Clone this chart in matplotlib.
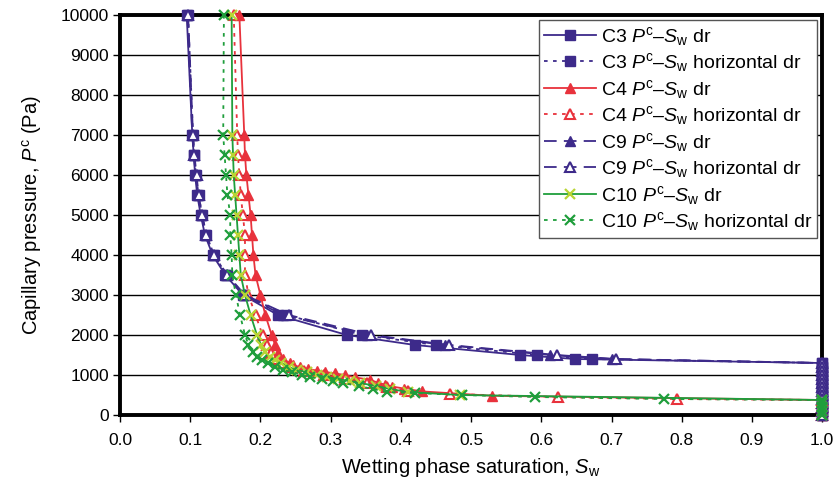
import matplotlib
matplotlib.use("Agg")
import matplotlib.pyplot as plt

plt.rcParams['font.family'] = ['Liberation Sans', 'DejaVu Sans']
plt.rcParams['mathtext.fontset'] = 'custom'
plt.rcParams['mathtext.rm'] = 'Liberation Sans'
plt.rcParams['mathtext.it'] = 'Liberation Sans:italic'

# ---- data ----
pc_c3 = [10000, 7000, 6500, 6000, 5500, 5000, 4500, 4000, 3500, 3000, 2500, 2000, 1750, 1500, 1400,
         1300, 1200, 1100, 1000, 900, 800, 700, 600, 500, 400, 300, 200, 100, 0]
sw_c3_dr = [0.095, 0.103, 0.105, 0.107, 0.110, 0.115, 0.121, 0.132, 0.150, 0.175, 0.225, 0.323, 0.420, 0.570, 0.648,
            1.0, 1.0, 1.0, 1.0, 1.0, 1.0, 1.0, 1.0, 1.0, 1.0, 1.0, 1.0, 1.0, 1.0]
sw_c3_h = [0.097, 0.104, 0.106, 0.108, 0.112, 0.117, 0.123, 0.134, 0.152, 0.177, 0.237, 0.345, 0.450, 0.594, 0.672,
           1.0, 1.0, 1.0, 1.0, 1.0, 1.0, 1.0, 1.0, 1.0, 1.0, 1.0, 1.0, 1.0, 1.0]
sw_c9_dr = [0.096, 0.103, 0.105, 0.108, 0.111, 0.116, 0.122, 0.133, 0.151, 0.176, 0.232, 0.352, 0.463, 0.612, 0.700,
            1.0, 1.0, 1.0, 1.0, 1.0, 1.0, 1.0, 1.0, 1.0, 1.0, 1.0, 1.0, 1.0, 1.0]
sw_c9_h = [0.097, 0.104, 0.106, 0.109, 0.112, 0.117, 0.123, 0.134, 0.153, 0.178, 0.240, 0.358, 0.469, 0.622, 0.706,
           1.0, 1.0, 1.0, 1.0, 1.0, 1.0, 1.0, 1.0, 1.0, 1.0, 1.0, 1.0, 1.0, 1.0]

pc_c4_dr = [10000, 7000, 6500, 6000, 5500, 5000, 4500, 4000, 3500, 3000, 2500, 2000, 1750, 1550, 1400, 1300,
            1250, 1200, 1150, 1110, 1075, 1040, 1000, 940, 880, 810, 760, 710, 660, 590, 480,
            375, 300, 200, 100, 0]
sw_c4_dr = [0.170, 0.177, 0.178, 0.180, 0.183, 0.186, 0.188, 0.190, 0.193, 0.200, 0.207, 0.216, 0.221, 0.225, 0.232, 0.242,
            0.246, 0.256, 0.268, 0.281, 0.292, 0.306, 0.320, 0.335, 0.356, 0.367, 0.377, 0.388, 0.405, 0.430, 0.530,
            1.0, 1.0, 1.0, 1.0, 1.0]

pc_c4_h = [10000, 7000, 6500, 6000, 5500, 5000, 4500, 4000, 3500, 3000, 2500, 2000, 1750, 1550, 1400, 1300,
           1200, 1100, 1000, 900, 800, 700, 600, 525, 450, 400, 375, 300, 200, 100, 0]
sw_c4_h = [0.162, 0.167, 0.168, 0.170, 0.172, 0.175, 0.178, 0.178, 0.178, 0.183, 0.193, 0.203, 0.209, 0.215, 0.223, 0.232,
           0.245, 0.262, 0.290, 0.320, 0.352, 0.380, 0.410, 0.470, 0.624, 0.793, 1.0, 1.0, 1.0, 1.0, 1.0]

pc_c10_dr = [10000, 7000, 6500, 6000, 5500, 5000, 4500, 4000, 3500, 3000, 2500, 2000, 1750, 1575, 1450, 1375,
             1300, 1200, 1125, 1075, 1000, 950, 900, 850, 800, 725, 650, 575, 500, 375, 300, 200, 100, 0]
sw_c10_dr = [0.159, 0.160, 0.161, 0.162, 0.164, 0.166, 0.168, 0.170, 0.172, 0.178, 0.186, 0.195, 0.201, 0.207, 0.213, 0.221,
             0.230, 0.240, 0.252, 0.266, 0.280, 0.295, 0.310, 0.327, 0.342, 0.365, 0.385, 0.410, 0.484, 1.0, 1.0, 1.0, 1.0, 1.0]

pc_c10_h = [10000, 7000, 6500, 6000, 5500, 5000, 4500, 4000, 3500, 3000, 2500, 2000, 1750, 1575, 1450, 1375,
            1300, 1200, 1125, 1075, 1000, 950, 900, 850, 800, 725, 650, 575, 550, 500, 450, 400,
            375, 300, 200, 100, 0]
sw_c10_h = [0.148, 0.147, 0.149, 0.151, 0.153, 0.157, 0.157, 0.159, 0.160, 0.165, 0.171, 0.178, 0.183, 0.190, 0.195, 0.202,
            0.211, 0.221, 0.232, 0.245, 0.259, 0.271, 0.288, 0.303, 0.318, 0.340, 0.360, 0.380, 0.420, 0.487, 0.591, 0.774,
            1.0, 1.0, 1.0, 1.0, 1.0]

x_ticks = [0.0, 0.1, 0.2, 0.3, 0.4, 0.5, 0.6, 0.7, 0.8, 0.9, 1.0]
y_ticks = [0, 1000, 2000, 3000, 4000, 5000, 6000, 7000, 8000, 9000, 10000]

purple = '#3d2a8a'
red = '#e8323c'
green = '#1f9e3c'
yellow = '#b9d534'

lab = lambda c, extra: r"%s $P^{\mathrm{c}}$–$S_{\mathrm{w}}$ %s" % (c, extra)

fig = plt.figure(figsize=(8.39, 4.92), dpi=100)
ax = fig.add_axes([0.143, 0.1565, 0.837, 0.813])

common = dict(lw=1.3, clip_on=False)
ax.plot(sw_c3_dr, pc_c3, color=purple, ls='-', marker='s', ms=7.5, mfc=purple, mec=purple,
        label=lab('C3', 'dr'), **common)
ax.plot(sw_c3_h, pc_c3, color=purple, ls=(0, (2, 3)), marker='s', ms=7.5, mfc=purple, mec=purple,
        label=lab('C3', 'horizontal dr'), **common)
ax.plot(sw_c4_dr, pc_c4_dr, color=red, ls='-', marker='^', ms=7.5, mfc=red, mec=red,
        label=lab('C4', 'dr'), **common)
ax.plot(sw_c4_h, pc_c4_h, color=red, ls=(0, (2, 3)), marker='^', ms=7.5, mfc='white', mec=red, mew=1.5,
        label=lab('C4', 'horizontal dr'), **common)
ax.plot(sw_c9_dr, pc_c3, color=purple, ls=(0, (7, 4)), marker='^', ms=7.5, mfc=purple, mec=purple,
        label=lab('C9', 'dr'), **common)
ax.plot(sw_c9_h, pc_c3, color=purple, ls=(0, (7, 4)), marker='^', ms=7.5, mfc='white', mec=purple, mew=1.5,
        label=lab('C9', 'horizontal dr'), **common)
ax.plot(sw_c10_dr, pc_c10_dr, color=green, ls='-', marker='x', ms=7.5, mec=yellow, mew=1.6,
        label=lab('C10', 'dr'), **common)
ax.plot(sw_c10_h, pc_c10_h, color=green, ls=(0, (2, 3)), marker='x', ms=7.5, mec=green, mew=1.6,
        label=lab('C10', 'horizontal dr'), **common)

ax.set_xlim(0, 1.0)
ax.set_ylim(0, 10000)
ax.set_xticks(x_ticks)
ax.set_xticklabels(['%.1f' % v for v in x_ticks])
ax.set_yticks(y_ticks)
ax.yaxis.grid(True, color='black', lw=1.0)
ax.set_axisbelow(True)
for s in ax.spines.values():
    s.set_linewidth(2.8)
    s.set_color('black')
    s.set_zorder(0.5)
ax.tick_params(axis='both', direction='out', length=5, width=1, labelsize=12.5, colors='black')
ax.tick_params(axis='x', pad=8)
ax.tick_params(axis='y', pad=3)

ax.set_xlabel(r"Wetting phase saturation, $S_{\mathrm{w}}$", fontsize=14.5, labelpad=6)
ax.set_ylabel(r"Capillary pressure, $P^{\mathrm{c}}$ (Pa)", fontsize=14.5, labelpad=12)

leg = ax.legend(loc='upper right', fontsize=14, numpoints=1, handlelength=2.7, labelspacing=0.18,
                handletextpad=0.25, borderpad=0.25, borderaxespad=0.25, fancybox=False, framealpha=1)
leg.get_frame().set_edgecolor('#555555')
leg.get_frame().set_linewidth(1.0)
leg.set_zorder(5)

fig.savefig('out.png', dpi=100)
